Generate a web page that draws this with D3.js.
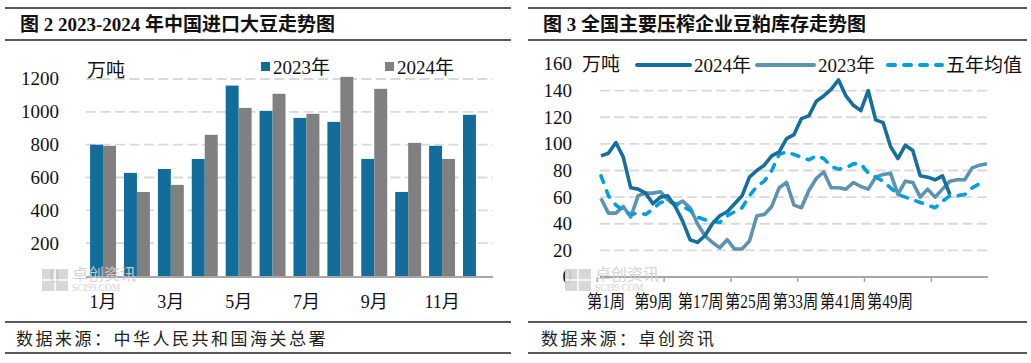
<!DOCTYPE html>
<html>
<head>
<meta charset="utf-8">
<script src="https://cdn.jsdelivr.net/npm/d3@7"></script>
<style>
  body { margin: 0; background: #fff; }
  svg text { font-family: "Liberation Serif", "Noto Sans CJK SC", serif; fill: #111; }
</style>
</head>
<body>
<svg id="chart" width="1031" height="363"></svg>
<script>
// ---- data ----
var months = ["1月", "2月", "3月", "4月", "5月", "6月", "7月", "8月", "9月", "10月", "11月", "12月"];
var imports2023 = [800, 628, 652, 713, 1160, 1006, 963, 939, 713, 512, 793, 982];
var imports2024 = [793, 512, 555, 860, 1024, 1110, 988, 1213, 1140, 811, 713, null];
var importTicks = [0, 200, 400, 600, 800, 1000, 1200];

var weekLabels = ["第1周", "第9周", "第17周", "第25周", "第33周", "第41周", "第49周"];
var stock2024 = [91, 93, 101, 90, 67, 66, 63, 55, 60, 61, 53, 42, 28, 26, 31, 40, 46, 49, 55, 61,
  75, 80, 84, 91, 94, 104, 107, 119, 121, 132, 136, 141, 148, 136, 129, 125, 140, 118, 116, 98,
  89, 99, 95, 76, 75, 73, 76, 62];
var stock2023 = [59, 48, 48, 53, 45, 61, 63, 63, 64, 58, 54, 57, 52, 40, 31, 26, 22, 28, 21, 21,
  27, 46, 47, 53, 67, 71, 54, 52, 65, 74, 79, 67, 67, 66, 71, 68, 66, 75, 77, 78,
  62, 72, 71, 60, 66, 60, 66, 72, 73, 73, 82, 84, 85];
var stockAvg5 = [76, 61, 54, 50, 47, 48, 47, 51, 56, 57, 55, 53, 50, 45, 43, 42, 41, 46, 49, 52,
  61, 68, 72, 80, 92, 94, 92, 90, 88, 91, 89, 83, 81, 82, 85, 85, 78, 75, 72, 67,
  62, 60, 58, 56, 54, 52, 57, 61, 61, 62, 67, 70];
var stockTicks = [0, 20, 40, 60, 80, 100, 120, 140, 160];

var svg = d3.select("#chart");
svg.append("rect").attr("width", 1031).attr("height", 363).attr("fill", "#fff");

var blue = "#136d9b", grey = "#808080";
var cjk = "'Noto Sans CJK SC', sans-serif";

// frame lines + titles + source
function panelFrame(x0, x1, title, source, srcX) {
  [8, 40, 322, 353].forEach(function(y) {
    svg.append("line")
      .attr("x1", x0).attr("x2", x1).attr("y1", y).attr("y2", y)
      .attr("stroke", "#222").attr("stroke-width", 1.6);
  });
  svg.append("text")
    .attr("x", x0 + 15).attr("y", 31)
    .attr("font-size", 19).attr("font-weight", "bold")
    .text(title);
  svg.append("text")
    .attr("x", srcX).attr("y", 345)
    .attr("font-size", 17).attr("letter-spacing", 2.5)
    .style("font-family", cjk).style("fill", "#222")
    .text(source);
}
panelFrame(5, 511, "图 2 2023-2024 年中国进口大豆走势图", "数据来源：中华人民共和国海关总署", 16);
panelFrame(528, 1027, "图 3 全国主要压榨企业豆粕库存走势图", "数据来源：卓创资讯", 541);

// watermark (kept above the axis labels)
function watermark(x, y) {
  var g = svg.append("g").attr("transform", "translate(" + x + "," + y + ")").attr("opacity", 0.9);
  g.append("rect").attr("x", 0).attr("y", 1).attr("width", 26).attr("height", 22).attr("fill", "#d4d4d4");
  g.append("line").attr("x1", 13).attr("x2", 13).attr("y1", 1).attr("y2", 23).attr("stroke", "#fff").attr("stroke-width", 1.5);
  g.append("line").attr("x1", 0).attr("x2", 26).attr("y1", 12).attr("y2", 12).attr("stroke", "#fff").attr("stroke-width", 1.5);
  g.append("text").attr("x", 30).attr("y", 12).attr("font-size", 16)
    .style("font-family", cjk).style("fill", "#d0d0d0").text("卓创资讯");
  g.append("text").attr("x", 30).attr("y", 23).attr("font-size", 9.5)
    .style("fill", "#cfcfcf").text("SCI99.COM");
}

// ================= left: imports bar chart =================
var x0 = d3.scaleBand().domain(months).range([86, 493]).paddingInner(0.235).paddingOuter(0.12);
var x1 = d3.scaleBand().domain(["2023", "2024"]).range([0, x0.bandwidth()]);
var yL = d3.scaleLinear().domain([0, 1200]).range([276, 79]);

var left = svg.append("g");

left.selectAll(".gridL")
  .data(importTicks.filter(function(d) { return d > 0; }))
  .enter().append("line")
  .attr("x1", 86).attr("x2", 493)
  .attr("y1", function(d) { return yL(d); }).attr("y2", function(d) { return yL(d); })
  .attr("stroke", "#d9d9d9").attr("stroke-width", 1.8).attr("stroke-dasharray", "10,4.5");

watermark(42, 268);

var groups = left.selectAll(".month")
  .data(months)
  .enter().append("g")
  .attr("transform", function(d) { return "translate(" + x0(d) + ",0)"; });

groups.append("rect")
  .attr("x", x1("2023")).attr("width", x1.bandwidth())
  .attr("y", function(d, i) { return yL(imports2023[i]); })
  .attr("height", function(d, i) { return yL(0) - yL(imports2023[i]); })
  .attr("fill", blue);

groups.filter(function(d, i) { return imports2024[i] != null; })
  .append("rect")
  .attr("x", x1("2024")).attr("width", x1.bandwidth())
  .attr("y", function(d) { return yL(imports2024[months.indexOf(d)]); })
  .attr("height", function(d) { return yL(0) - yL(imports2024[months.indexOf(d)]); })
  .attr("fill", grey);

// x axis line
left.append("line").attr("x1", 86).attr("x2", 493).attr("y1", 277).attr("y2", 277)
  .attr("stroke", "#a6a6a6").attr("stroke-width", 2);

left.selectAll(".ytL")
  .data(importTicks)
  .enter().append("text")
  .attr("x", 59).attr("y", function(d) { return yL(d); }).attr("dy", "0.34em")
  .attr("text-anchor", "end").attr("font-size", 19)
  .text(function(d) { return d; });

left.selectAll(".xtL")
  .data(months.filter(function(d, i) { return i % 2 === 0; }))
  .enter().append("text")
  .attr("x", function(d) { return x0(d) + x0.bandwidth() / 2; }).attr("y", 308)
  .attr("text-anchor", "middle").attr("font-size", 18)
  .text(function(d) { return d; });

left.append("text").attr("x", 87).attr("y", 77).attr("font-size", 19)
  .style("font-family", cjk).text("万吨");

// legend
[["2023年", blue, 261], ["2024年", grey, 385]].forEach(function(l) {
  left.append("rect").attr("x", l[2]).attr("y", 62).attr("width", 9).attr("height", 9).attr("fill", l[1]);
  left.append("text").attr("x", l[2] + 12).attr("y", 74).attr("font-size", 19).text(l[0]);
});

// ================= right: soybean meal stock lines =================
var xR = d3.scaleLinear().domain([1, 53]).range([601, 987]);
var yR = d3.scaleLinear().domain([0, 160]).range([277, 64]);
var labelPos = d3.scalePoint().domain(weekLabels).range([606, 890]);

var right = svg.append("g");

right.selectAll(".gridR")
  .data(stockTicks.filter(function(d) { return d > 0 && d < 160; }))
  .enter().append("line")
  .attr("x1", 600).attr("x2", 988)
  .attr("y1", function(d) { return yR(d); }).attr("y2", function(d) { return yR(d); })
  .attr("stroke", "#d9d9d9").attr("stroke-width", 1.8).attr("stroke-dasharray", "10,4.5");

watermark(565, 268);

right.append("line").attr("x1", 600).attr("x2", 988).attr("y1", 277).attr("y2", 277)
  .attr("stroke", "#a6a6a6").attr("stroke-width", 2);
right.selectAll(".tickR")
  .data(d3.range(0.5, 50, 9))
  .enter().append("line")
  .attr("x1", function(d) { return xR(d); }).attr("x2", function(d) { return xR(d); })
  .attr("y1", 277).attr("y2", 282)
  .attr("stroke", "#a6a6a6").attr("stroke-width", 1.5);

var line = d3.line()
  .x(function(d, i) { return xR(i + 1); })
  .y(function(d) { return yR(d); });

var series = [
  { name: "2023年", values: stock2023, color: "#5b93b0", dash: null },
  { name: "五年均值", values: stockAvg5, color: "#00a0dc", dash: "7,9" },
  { name: "2024年", values: stock2024, color: "#156e9c", dash: null }
];

right.selectAll(".series")
  .data(series)
  .enter().append("path")
  .attr("d", function(d) { return line(d.values); })
  .attr("fill", "none")
  .attr("stroke", function(d) { return d.color; })
  .attr("stroke-width", 3.6)
  .attr("stroke-linejoin", "round")
  .attr("stroke-linecap", function(d) { return d.dash ? "round" : "butt"; })
  .attr("stroke-dasharray", function(d) { return d.dash; });

right.selectAll(".ytR")
  .data(stockTicks)
  .enter().append("text")
  .attr("x", 572).attr("y", function(d) { return yR(d); }).attr("dy", "0.34em")
  .attr("text-anchor", "end").attr("font-size", 19)
  .text(function(d) { return d; });

right.selectAll(".xtR")
  .data(weekLabels)
  .enter().append("text")
  .attr("transform", function(d) { return "translate(" + labelPos(d) + ",308) scale(0.85,1)"; })
  .attr("text-anchor", "middle").attr("font-size", 18)
  .text(function(d) { return d; });

right.append("text").attr("x", 582).attr("y", 71).attr("font-size", 19)
  .style("font-family", cjk).text("万吨");

// legend (order: 2024, 2023, five-year avg)
[[series[2], 637, 690], [series[0], 757, 814], [series[1], 888, 942]].forEach(function(l) {
  right.append("line")
    .attr("x1", l[1]).attr("x2", l[2]).attr("y1", 65).attr("y2", 65)
    .attr("stroke", l[0].color).attr("stroke-width", 4)
    .attr("stroke-linecap", "round")
    .attr("stroke-dasharray", l[0].dash);
  right.append("text").attr("x", l[2] + 4).attr("y", 72).attr("font-size", 19).text(l[0].name);
});
</script>
</body>
</html>
